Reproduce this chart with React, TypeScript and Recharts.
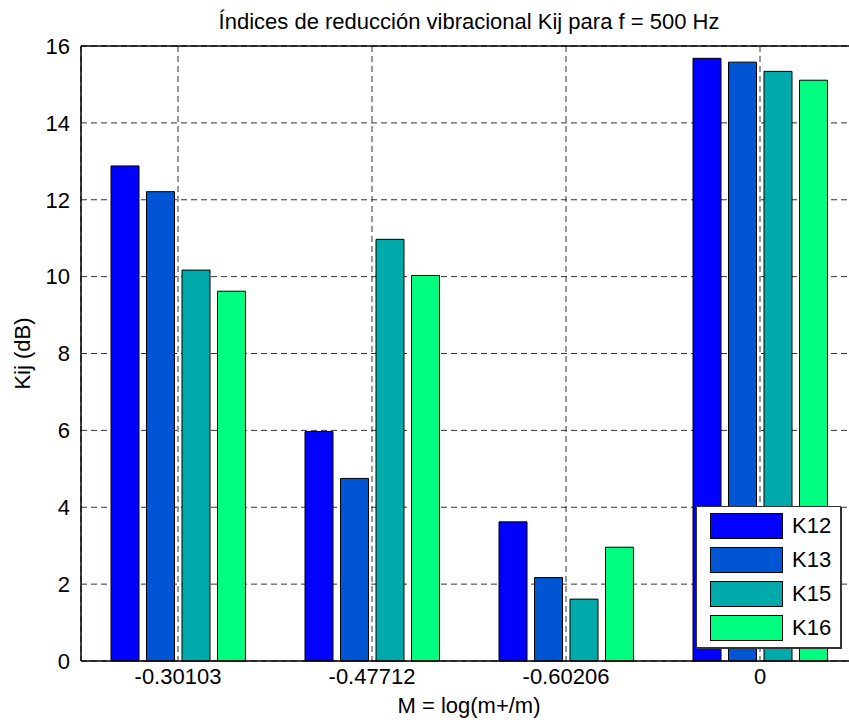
import React from 'react';
import { BarChart, Bar, XAxis, YAxis, CartesianGrid, ReferenceLine, Label } from 'recharts';

const categories = ['-0.30103', '-0.47712', '-0.60206', '0'];
const k12 = [12.88, 5.97, 3.62, 15.68];
const k13 = [12.21, 4.75, 2.17, 15.58];
const k15 = [10.17, 10.97, 1.61, 15.34];
const k16 = [9.62, 10.03, 2.96, 15.11];
const yTicks = [0, 2, 4, 6, 8, 10, 12, 14, 16];

const seriesNames = ['K12', 'K13', 'K15', 'K16'];
const seriesValues = [k12, k13, k15, k16];
const seriesColors = ['#0000FF', '#0055D4', '#00AAAA', '#00FF80'];

const data = categories.map((c, i) => ({
  x: i + 1,
  label: c,
  K12: k12[i],
  K13: k13[i],
  K15: k15[i],
  K16: k16[i],
}));

const FONT = '"Liberation Sans", Arial, sans-serif';

export default function App() {
  return (
    <div
      style={{
        position: 'absolute',
        left: 0,
        top: 0,
        width: 849,
        height: 726,
        overflow: 'hidden',
        background: '#fff',
        fontFamily: FONT,
      }}
    >
      <div
        style={{
          position: 'absolute',
          left: 81,
          width: 776,
          top: 11,
          textAlign: 'center',
          fontSize: 22,
          lineHeight: '22px',
          color: '#000',
          whiteSpace: 'nowrap',
        }}
      >
        Índices de reducción vibracional Kij para f = 500 Hz
      </div>
      <BarChart
        width={870}
        height={726}
        data={data}
        margin={{ top: 46, right: 13, left: 0, bottom: 0 }}
        barSize={28}
        barGap={7.5}
        style={{ position: 'absolute', left: 0, top: 0 }}
      >
        <CartesianGrid stroke="#333" strokeDasharray="6 4" />
        <XAxis
          type="number"
          dataKey="x"
          domain={[0.5, 4.5]}
          ticks={[1, 2, 3, 4]}
          tickFormatter={(v: number) => categories[v - 1]}
          height={65}
          tickLine={false}
          tickSize={0}
          tickMargin={7}
          axisLine={{ stroke: '#000', strokeWidth: 1.5 }}
          tick={{ fill: '#000', fontSize: 22, fontFamily: FONT }}
          allowDataOverflow
        >
          <Label
            content={(props: any) => {
              const vb = props.viewBox || {};
              return (
                <text
                  x={469}
                  y={vb.y + 44}
                  textAnchor="middle"
                  dominantBaseline="central"
                  fontSize={22}
                  fontFamily={FONT}
                  fill="#000"
                >
                  M = log(m+/m)
                </text>
              );
            }}
          />
        </XAxis>
        <YAxis
          domain={[0, 16]}
          ticks={yTicks}
          width={81}
          tickLine={false}
          tickSize={0}
          tickMargin={11}
          axisLine={{ stroke: '#000', strokeWidth: 1.5 }}
          tick={{ fill: '#000', fontSize: 22, fontFamily: FONT }}
          interval={0}
        >
          <Label
            content={(props: any) => {
              const vb = props.viewBox || {};
              const cy = vb.y + vb.height / 2;
              return (
                <text
                  x={22}
                  y={cy}
                  transform={`rotate(-90 22 ${cy})`}
                  textAnchor="middle"
                  dominantBaseline="central"
                  fontSize={22}
                  fontFamily={FONT}
                  fill="#000"
                >
                  Kij (dB)
                </text>
              );
            }}
          />
        </YAxis>
        <ReferenceLine y={16} stroke="#000" strokeWidth={1.5} />
        {seriesNames.map((name, i) => (
          <Bar
            key={name}
            dataKey={name}
            fill={seriesColors[i]}
            stroke="#000"
            strokeWidth={1}
            isAnimationActive={false}
          />
        ))}
      </BarChart>
      <div
        style={{
          position: 'absolute',
          left: 696,
          top: 506,
          width: 143,
          height: 140,
          border: '1px solid #333',
          background: '#fff',
          boxShadow: '1px 1px 0 #333',
        }}
      >
        {seriesNames.map((name, i) => (
          <div
            key={name}
            style={{
              position: 'absolute',
              left: 13,
              top: 6 + i * 34.1,
              height: 26,
              display: 'flex',
              alignItems: 'center',
            }}
          >
            <div
              style={{
                width: 71,
                height: 24,
                background: seriesColors[i],
                border: '1px solid #000',
              }}
            />
            <span style={{ marginLeft: 9, fontSize: 22, color: '#000', lineHeight: '26px' }}>
              {name}
            </span>
          </div>
        ))}
      </div>
    </div>
  );
}
